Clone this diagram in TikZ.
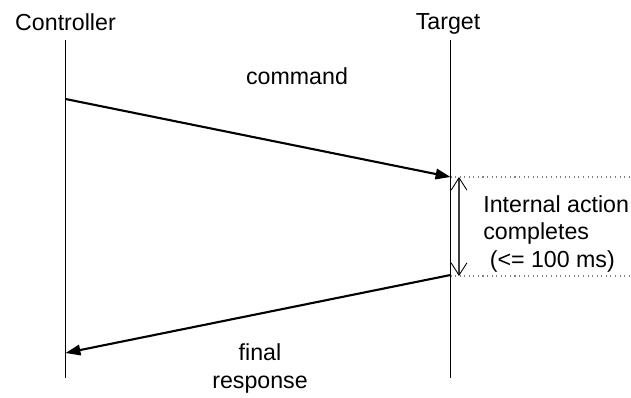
\documentclass[tikz,border=0pt]{standalone}
\usepackage{fontspec}
\setmainfont{Liberation Sans}
\usetikzlibrary{arrows.meta}

\tikzset{
  lifeline/.style={line width=0.6pt},
  msg/.style={line width=1.2pt, -{Triangle[length=8.5pt, width=6pt]}},
  guide/.style={gray, dotted, line width=0.6pt},
  barb/.tip={Straight Barb[length=7pt, width=9pt, line width=0.5pt, color=black]},
  span/.style={line width=0.8pt, draw=darkgray, barb-barb},
  lbl/.style={font=\fontsize{13.2}{15.4}\selectfont, inner sep=0pt}
}

\begin{document}
\begin{tikzpicture}[x=0.02cm, y=-0.02cm]

  \useasboundingbox (0,0) rectangle (631,398);

  \node[lbl, anchor=base] (ctl) at (65.5,31) {Controller};
  \node[lbl, anchor=base] (tgt) at (448,30) {Target};

  \coordinate (ctltop) at (65.5,40);
  \coordinate (ctlbot) at (65.5,378);
  \coordinate (tgttop) at (450.5,40);
  \coordinate (tgtbot) at (450.5,378);

  \draw[lifeline] (ctltop) -- (ctlbot);
  \draw[lifeline] (tgttop) -- (tgtbot);

  \coordinate (cmdout) at (65.5,99);
  \coordinate (cmdin) at (450.5,177);
  \coordinate (rspout) at (450.5,275);
  \coordinate (rspin) at (65.5,353);

  \draw[msg] (cmdout) -- (cmdin);
  \draw[msg] (rspout) -- (rspin);

  % multi-line labels sit on the baseline of their last line
  \node[lbl, anchor=base] (cmd) at (297,85) {command};
  \node[lbl, anchor=base, align=center] (rsp) at (260,388) {final\\response};

  % window of the internal action
  \coordinate (wintop) at (631,177);
  \coordinate (winbot) at (631,276);
  \draw[guide] (cmdin) -- (wintop);
  \draw[guide] (rspout |- winbot) -- (winbot);

  \coordinate (spantop) at (459,177);
  \coordinate (spanbot) at (459,276);
  \draw[span] (spantop) -- (spanbot);

  \node[lbl, anchor=base west, align=left] (act) at (483,267) {Internal action\\completes\\\ (<= 100 ms)};

\end{tikzpicture}
\end{document}
